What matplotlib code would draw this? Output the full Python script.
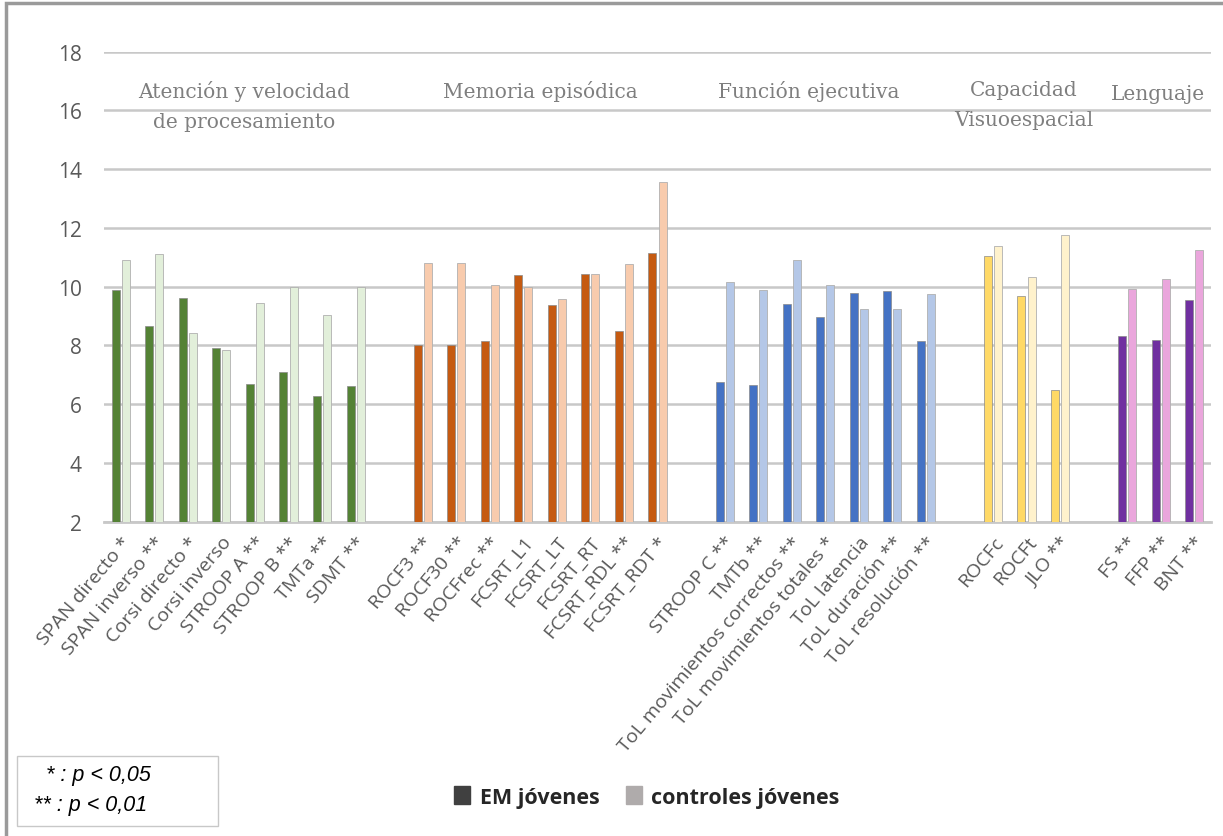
import numpy as np
import matplotlib.pyplot as plt
from matplotlib.patches import Rectangle, Patch

# tests per domain, with significance marks
labels_atencion = ["SPAN directo *", "SPAN inverso **", "Corsi directo *", "Corsi inverso",
                   "STROOP A **", "STROOP B **", "TMTa **", "SDMT **"]
labels_memoria = ["ROCF3 **", "ROCF30 **", "ROCFrec **", "FCSRT_L1", "FCSRT_LT",
                  "FCSRT_RT", "FCSRT_RDL **", "FCSRT_RDT *"]
labels_ejecutiva = ["STROOP C **", "TMTb **", "ToL movimientos correctos **",
                    "ToL movimientos totales *", "ToL latencia", "ToL duración **",
                    "ToL resolución **"]
labels_visuo = ["ROCFc", "ROCFt", "JLO **"]
labels_lenguaje = ["FS **", "FFP **", "BNT **"]

# EM jóvenes / controles jóvenes
em_atencion = [9.88, 8.67, 9.63, 7.91, 6.70, 7.10, 6.27, 6.62]
ctl_atencion = [10.90, 11.10, 8.41, 7.83, 9.46, 9.98, 9.05, 9.98]
em_memoria = [8.02, 8.02, 8.14, 10.41, 9.37, 10.45, 8.49, 11.16]
ctl_memoria = [10.80, 10.80, 10.07, 9.98, 9.58, 10.42, 10.76, 13.55]
em_ejecutiva = [6.74, 6.65, 9.40, 8.97, 9.80, 9.84, 8.14]
ctl_ejecutiva = [10.15, 9.88, 10.90, 10.07, 9.23, 9.23, 9.76]
em_visuo = [11.06, 9.69, 6.47]
ctl_visuo = [11.40, 10.32, 11.77]
em_lenguaje = [8.31, 8.17, 9.54]
ctl_lenguaje = [9.93, 10.25, 11.24]

dominios = ["Atención y velocidad\nde procesamiento", "Memoria episódica",
            "Función ejecutiva", "Capacidad\nVisuoespacial", "Lenguaje"]

groups = [
    (labels_atencion, em_atencion, ctl_atencion, "#548235", "#E2EFDA"),
    (labels_memoria, em_memoria, ctl_memoria, "#C55A11", "#F8CBAD"),
    (labels_ejecutiva, em_ejecutiva, ctl_ejecutiva, "#4472C4", "#B4C7E7"),
    (labels_visuo, em_visuo, ctl_visuo, "#FFD966", "#FFF2CC"),
    (labels_lenguaje, em_lenguaje, ctl_lenguaje, "#7030A0", "#EAA6DC"),
]

fig = plt.figure(figsize=(12.23, 8.37), dpi=100)
ax = fig.add_axes([104 / 1223, 0.3755, 1107 / 1223, 0.5615])

w = 0.24
off = 0.15
pos = 0
ticks, ticklabels, centers = [], [], []
for labs, em, ctl, c_dark, c_light in groups:
    x = np.arange(pos, pos + len(labs))
    ax.bar(x - off, np.array(em) - 2, w, bottom=2, color=c_dark,
           edgecolor="#8a8a8a", linewidth=0.5, zorder=3)
    ax.bar(x + off, np.array(ctl) - 2, w, bottom=2, color=c_light,
           edgecolor="#b0b0b0", linewidth=0.6, zorder=3)
    ticks.extend(x)
    ticklabels.extend(labs)
    centers.append(x.mean())
    pos += len(labs) + 1

ax.set_xlim(-0.5, pos - 1.5)
ax.set_ylim(2, 18)
ax.set_yticks(range(2, 19, 2))
ax.yaxis.grid(True, color="#C8C8C8", linewidth=1.8, zorder=0)
ax.set_axisbelow(True)
for s in ["top", "right", "left"]:
    ax.spines[s].set_visible(False)
ax.spines["bottom"].set_color("#C8C8C8")
ax.spines["bottom"].set_linewidth(2)
ax.tick_params(axis="both", length=0)
ax.tick_params(axis="y", pad=16, labelsize=15, labelcolor="#595959")
ax.set_xticks(ticks)
ax.set_xticklabels(ticklabels, rotation=50, ha="right", va="top",
                   rotation_mode="anchor", fontsize=14, color="#595959",
                   family="Open Sans")
ax.tick_params(axis="x", pad=8)
for t in ax.get_yticklabels():
    t.set_family("Open Sans")

# domain titles
title_dx = [0.18, 0.0, -0.5, -0.07, -0.07]
for cx, dx, name in zip(centers, title_dx, dominios):
    y_top = 17.05 if name != "Lenguaje" else 16.9
    ax.text(cx + dx, y_top, name, ha="center", va="top", fontsize=14.5,
            color="#7f7f7f", family="DejaVu Serif", linespacing=1.75)

# legend
handles = [Patch(facecolor="#404040", edgecolor="#404040"),
           Patch(facecolor="#AFABAB", edgecolor="#AFABAB")]
leg = fig.legend(handles, ["EM jóvenes", "controles jóvenes"], loc="center",
                 bbox_to_anchor=(0.529, 0.0466), ncol=2, frameon=False,
                 prop={"family": "Open Sans", "weight": "bold", "size": 15.5},
                 handlelength=0.75, handleheight=0.9, handletextpad=0.45,
                 columnspacing=1.2, labelcolor="#262626")

# significance key
fig.patches.append(Rectangle((17 / 1223, 1 - 827 / 837), 201 / 1223, 70 / 837,
                             transform=fig.transFigure, facecolor="white",
                             edgecolor="#c8c8c8", linewidth=1))
fig.text(46 / 1223, 1 - 776 / 837, "* : p < 0,05", ha="left", va="center",
         fontsize=15.5, style="italic", family="Liberation Sans")
fig.text(34 / 1223, 1 - 806 / 837, "** : p < 0,01", ha="left", va="center",
         fontsize=15.5, style="italic", family="Liberation Sans")

# outer chart border
fig.patches.append(Rectangle((6 / 1223, -0.01), 1.2, 1.0 - 4 / 837 + 0.01,
                             transform=fig.transFigure, fill=False,
                             edgecolor="#9a9a9a", linewidth=2.5))

fig.savefig("out.png", dpi=100)
